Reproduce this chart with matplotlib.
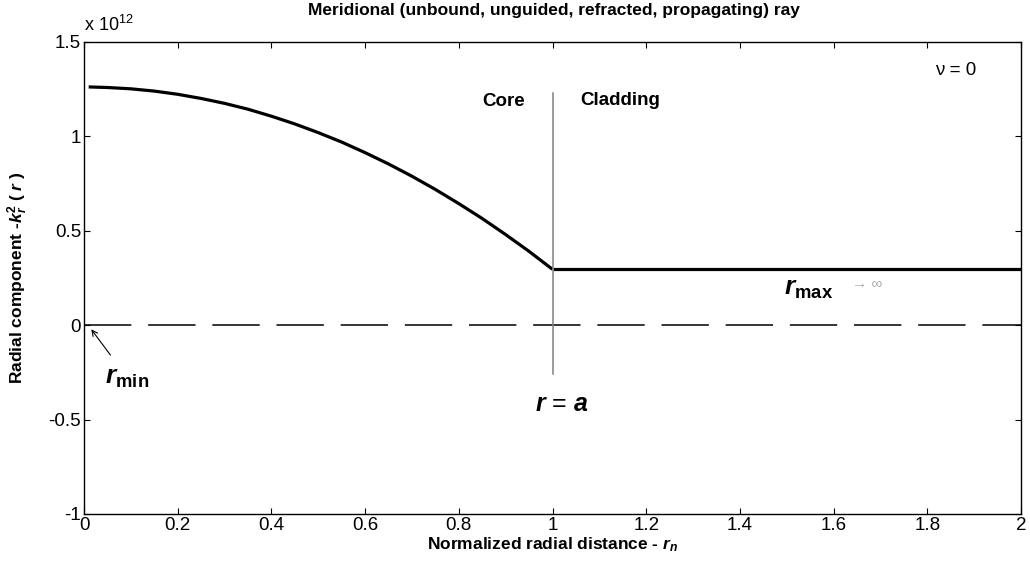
import matplotlib
matplotlib.use("Agg")
import matplotlib.pyplot as plt

plt.rcParams['font.family'] = ['Liberation Sans', 'DejaVu Sans']
plt.rcParams['mathtext.fontset'] = 'custom'
plt.rcParams['mathtext.rm'] = 'Liberation Sans'
plt.rcParams['mathtext.it'] = 'Liberation Sans:italic'
plt.rcParams['mathtext.bf'] = 'Liberation Sans:bold'
plt.rcParams['mathtext.bfit'] = 'Liberation Sans:bold:italic'

# Core region (parabolic profile)
core_r = [0.01, 0.05, 0.10, 0.15, 0.20, 0.25, 0.30, 0.35, 0.40, 0.45, 0.50,
          0.55, 0.60, 0.65, 0.70, 0.75, 0.80, 0.85, 0.90, 0.95, 1.00]
core_k = [1.262, 1.259, 1.252, 1.240, 1.223, 1.201, 1.175, 1.144, 1.107, 1.066, 1.020,
          0.970, 0.914, 0.854, 0.789, 0.719, 0.644, 0.565, 0.480, 0.391, 0.296]
# Cladding region (constant)
clad_r = [1.00, 2.00]
clad_k = [0.296, 0.296]
# Reference zero line
zero_r = [0.0, 2.0]
zero_k = [0.0, 0.0]
# Core/cladding boundary marker
bound_r = [1.0, 1.0]
bound_k = [1.23, -0.26]

SCALE = 1e12

xticks = [0, 0.2, 0.4, 0.6, 0.8, 1, 1.2, 1.4, 1.6, 1.8, 2]
xticklabels = ['0', '0.2', '0.4', '0.6', '0.8', '1', '1.2', '1.4', '1.6', '1.8', '2']
yticks = [-1, -0.5, 0, 0.5, 1, 1.5]
yticklabels = ['-1', '-0.5', '0', '0.5', '1', '1.5']

fig = plt.figure(figsize=(10.30, 5.65), dpi=100)
ax = fig.add_axes([84/1030, 51/565, (1021-84)/1030, (514-42)/565])

ax.plot(core_r, [v * SCALE for v in core_k], color='black', lw=2.3, solid_capstyle='butt')
ax.plot(clad_r, [v * SCALE for v in clad_k], color='black', lw=2.3, solid_capstyle='butt')
ax.plot(zero_r, zero_k, color='black', lw=1.1, linestyle=(0, (31, 11)))
ax.plot(bound_r, [v * SCALE for v in bound_k], color='#808080', lw=1.1)

ax.set_xlim(0, 2)
ax.set_ylim(-1 * SCALE, 1.5 * SCALE)
ax.set_xticks(xticks)
ax.set_xticklabels(xticklabels)
ax.set_yticks([v * SCALE for v in yticks])
ax.set_yticklabels(yticklabels)
ax.tick_params(direction='in', length=4, width=0.8, labelsize=13.5, pad=2,
               top=True, right=True)
for s in ax.spines.values():
    s.set_linewidth(1.0)

fig.text(84/1030, (565-31)/565, r'x 10$^{12}$', fontsize=13, ha='left', va='baseline')

fig.text(554/1030, (565-11)/565, 'Meridional (unbound, unguided, refracted, propagating) ray',
         fontsize=12.5, fontweight='bold', ha='center', va='center')
ax.set_xlabel(r'Normalized radial distance - $\boldsymbol{r}_{\boldsymbol{n}}$',
              fontsize=12.5, fontweight='bold')
ax.xaxis.set_label_coords(0.5, -0.045)
ax.set_ylabel(r'Radial component -$\boldsymbol{k}_{\boldsymbol{r}}^{\mathbf{2}}$ ( $\boldsymbol{r}$ )',
              fontsize=12.5, fontweight='bold')
ax.yaxis.set_label_coords(-0.058, 0.5)

ax.text(1.816, 1.35 * SCALE, 'ν = 0', fontsize=13.5, ha='left', va='center')
ax.text(0.896, 1.185 * SCALE, 'Core', fontsize=13.5, fontweight='bold', ha='center', va='center')
ax.text(1.060, 1.19 * SCALE, 'Cladding', fontsize=13.5, fontweight='bold', ha='left', va='center')
ax.text(1.495, 0.19 * SCALE, r'$\boldsymbol{r}_{\mathbf{max}}$', fontsize=19, ha='left', va='center')
ax.text(1.64, 0.22 * SCALE, '→ ∞', fontsize=11, color='#aaaaaa', ha='left', va='center')
ax.text(0.045, -0.28 * SCALE, r'$\boldsymbol{r}_{\mathbf{min}}$', fontsize=19, ha='left', va='center')
ax.text(1.02, -0.42 * SCALE, r'$\boldsymbol{r}$ = $\boldsymbol{a}$', fontsize=18, ha='center', va='center')
ax.annotate('', xy=(0.012, -0.01 * SCALE), xytext=(0.06, -0.17 * SCALE),
            arrowprops=dict(arrowstyle='->', color='black', lw=0.8))

fig.savefig('out.png', dpi=100)
